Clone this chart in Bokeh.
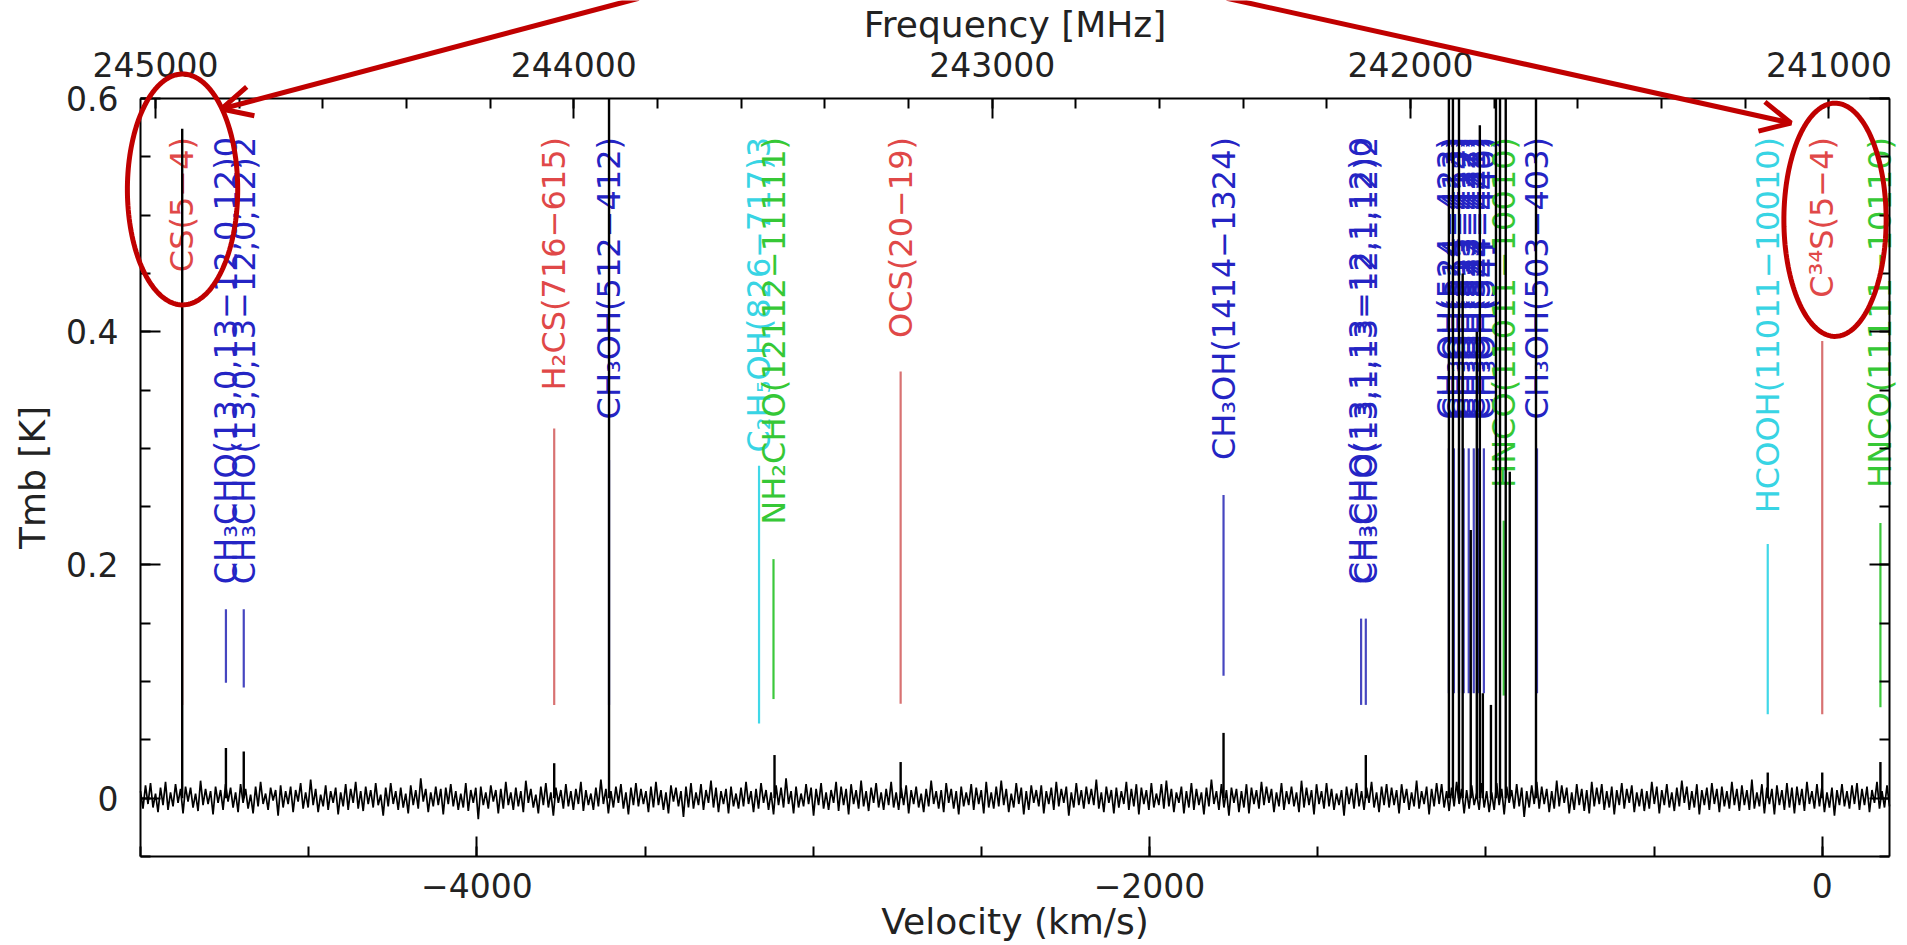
import numpy as np
from bokeh.plotting import figure
from bokeh.models import (Range1d, LinearAxis, FixedTicker, ColumnDataSource, Arrow,
                          OpenHead, PolyAnnotation, BasicTickFormatter, CustomJSTickFormatter)
from bokeh.core.properties import value
from bokeh.embed import file_html
from bokeh.resources import INLINE

# ---------------- data ----------------
# velocity range of the spectrum (km/s), Tmb range (K), rest frequency of C34S(5-4) for the top axis
v_min, v_max = -5000, 200
t_min, t_max = -0.05, 0.6
rest_freq_mhz = 241016.1
c_kms = 299792.458

# baseline noise of the spectrum (mK), one value per channel
noise_mK = [
    6,-9,11,-5,13,-8,4,-12,9,-6,14,-10,5,-7,12,-4,8,-13,10,-3,
    9,-8,4,-11,15,-6,8,-5,6,-14,10,-4,7,-10,12,-3,9,-8,5,-12,
    12,-4,8,-9,3,-13,10,-7,14,-5,4,-10,9,-2,7,-15,11,-8,6,-5,
    10,-12,7,-3,13,-9,5,-8,16,-6,8,-12,3,-7,11,-10,6,-4,9,-14,
    5,-7,12,-10,8,-4,14,-9,6,-11,10,-5,7,-8,13,-6,3,-15,9,-7,
    13,-5,6,-10,9,-8,4,-13,11,-6,7,-9,17,-3,8,-12,5,-7,10,-6,
    8,-14,9,-5,12,-7,6,-10,4,-8,13,-11,7,-4,9,-18,10,-6,5,-9,
    11,-3,7,-13,8,-9,14,-6,5,-10,9,-7,6,-12,15,-4,8,-8,3,-13,
    10,-6,13,-8,5,-15,9,-4,7,-9,12,-7,6,-10,8,-5,14,-11,7,-6,
    4,-10,9,-7,16,-5,8,-13,6,-8,10,-4,12,-9,5,-14,9,-6,13,-7,
    8,-5,6,-12,10,-8,14,-6,7,-10,5,-13,11,-3,9,-7,6,-16,10,-8,
    13,-9,5,-6,12,-10,7,-4,15,-8,9,-12,6,-5,8,-13,10,-7,4,-9,
    9,-7,14,-5,6,-12,8,-9,13,-4,7,-10,5,-14,11,-6,9,-8,17,-5,
    6,-13,10,-8,4,-7,12,-5,9,-15,8,-6,13,-9,5,-10,7,-4,14,-11,
    10,-6,8,-14,12,-5,7,-9,15,-7,6,-11,9,-4,13,-8,5,-10,8,-6,
    14,-8,5,-10,9,-6,11,-13,7,-5,10,-8,4,-12,8,-7,15,-5,6,-9,
    7,-12,13,-4,8,-9,6,-14,10,-7,5,-6,12,-10,9,-5,7,-13,14,-8,
    5,-9,10,-7,15,-6,8,-12,4,-8,13,-5,9,-14,6,-10,11,-4,7,-7,
    11,-13,6,-5,9,-10,14,-7,8,-4,10,-15,5,-8,13,-6,7,-9,10,-5,
    8,-6,16,-9,5,-12,10,-4,7,-13,9,-8,6,-5,14,-10,8,-7,12,-14,
    9,-5,7,-10,13,-8,4,-6,12,-9,15,-7,8,-12,5,-4,10,-13,6,-8,
    13,-10,8,-6,5,-14,9,-7,16,-5,6,-10,12,-8,7,-15,9,-4,8,-12,
    6,-8,12,-13,9,-5,7,-9,14,-6,10,-4,8,-12,5,-7,13,-10,6,-5,
    10,-7,5,-12,15,-8,9,-6,7,-14,12,-5,6,-9,13,-7,8,-10,4,-6,
    7,-15,10,-5,8,-9,13,-7,6,-10,9,-4,14,-8,5,-12,10,-6,12,-8,
    9,-6,7,-13,12,-4,8,-10,5,-7,15,-9,6,-5,10,-14,8,-7,13,-5,
    12,-8,6,-11,9,-7,14,-5,8,-13,7,-9,11,-6,4,-10,13,-8,6,-12,
    5,-10,13,-6,8,-14,10,-4,7,-9,12,-7,9,-16,6,-8,11,-5,14,-9,
    10,-5,8,-12,6,-9,15,-7,11,-4,9,-13,5,-10,12,-6,8,-11,7,-13,
    14,-7,9,-5,12,-10,6,-8,10,-14,7,-6,13,-9,8,-4,11,-12,5,-7,
    8,-11,6,-9,14,-5,10,-13,7,-6,12,-8,5,-11,9,-7,15,-4,10,-10,
    6,-8,12,-14,7,-6,9,-10,13,-5,8,-12,10,-7,6,-9,14,-6,8,-11,
    11,-6,7,-10,16,-9,5,-7,12,-13,9,-5,8,-14,11,-6,7,-10,13,-8,
    9,-13,10,-6,8,-11,14,-5,6,-9,12,-7,10,-12,5,-8,9,-15,7,-6,
    12,-7,6,-9,11,-5,13,-10,8,-6,10,-12,7,-4,14,-9,6,-8,11,-7,
]

# emission peaks of the spectrum: velocity (km/s) and Tmb (K); 0.6 = runs off the top of the plot
peak_v = [-4876, -4746, -4693, -3770, -3607, -3115, -2740, -1780, -1357,
          -1110, -1098, -1080, -1069, -1045, -1027, -1018, -1009, -985,
          -970, -958, -941, -929, -851, -162, 0, 173]
peak_T = [0.574, 0.043, 0.040, 0.030, 0.60, 0.037, 0.031, 0.056, 0.037,
          0.60, 0.60, 0.60, 0.45, 0.23, 0.40, 0.577, 0.09, 0.08,
          0.60, 0.60, 0.60, 0.28, 0.60, 0.022, 0.022, 0.031]

# identified transitions: label, colour family, velocity, marker bottom / top (K)
line_labels = [
    "CS(5−4)",
    "CH₃CHO(13,0,13−12,0,12)0",
    "CH₃CHO(13,0,13−12,0,12)2",
    "H₂CS(716−615)",
    "CH₃OH(512−412)",
    "C₂H₅OH(826−717)3",
    "NH₂CHO(12112−11111)",
    "OCS(20−19)",
    "CH₃OH(1414−1324)",
    "CH₃CHO(13,1,13−12,1,12)0",
    "CH₃CHO(13,1,13−12,1,12)2",
    "CH₃OH(524−423)",
    "CH₃OH(514−413)",
    "CH₃OH(515−414)",
    "CH₃OH(523−422)",
    "CH₃OH(533−432)",
    "CH₃OH(532−431)",
    "CH₃OH(544−443)",
    "CH₃OH(541−440)",
    "HNCO(11011−10010)",
    "CH₃OH(503−403)",
    "HCOOH(11011−10010)",
    "C³⁴S(5−4)",
    "HNCO(11111−10110)",
]
line_family = ["red", "blue", "blue", "red", "blue", "cyan", "green", "red", "blue",
               "blue", "blue", "blue", "blue", "blue", "blue", "blue", "blue", "blue",
               "blue", "green", "blue", "cyan", "red", "green"]
line_v = [-4876, -4746, -4693, -3770, -3607, -3161, -3118, -2740, -1780,
          -1371, -1357, -1110, -1095, -1080, -1066, -1051, -1036, -1021, -1006,
          -947, -848, -162, 0, 173]
marker_bottom = [0.080, 0.099, 0.095, 0.080, 0.080, 0.064, 0.085, 0.081, 0.105,
                 0.080, 0.080, 0.090, 0.090, 0.090, 0.090, 0.090, 0.090, 0.090, 0.090,
                 0.088, 0.090, 0.072, 0.072, 0.078]
marker_top = [0.420, 0.162, 0.162, 0.317, 0.290, 0.285, 0.205, 0.366, 0.260,
              0.154, 0.154, 0.300, 0.300, 0.300, 0.300, 0.300, 0.300, 0.300, 0.300,
              0.238, 0.300, 0.218, 0.392, 0.236]

# tick values
vel_ticks = [-4000, -2000, 0]
vel_tick_labels = ["−4000", "−2000", "0"]
vel_minor = list(range(-5000, 201, 500))
freq_ticks = [245000, 244000, 243000, 242000, 241000]
freq_minor = list(range(241000, 245001, 200))
tmb_ticks = [0, 0.2, 0.4, 0.6]
tmb_tick_labels = ["0", "0.2", "0.4", "0.6"]
tmb_minor = [-0.05, 0.0, 0.05, 0.1, 0.15, 0.2, 0.25, 0.3, 0.35, 0.4, 0.45, 0.5, 0.55, 0.6]

# ---------------- layout & styling ----------------
W, H = 1907, 945
box_left, box_right, box_top, box_bottom = 140, 1889, 98, 856   # pixel box of the axes
text_colour = {"red": "#e04848", "blue": "#2424c4", "cyan": "#38d4e4", "green": "#36c836"}
marker_colour = {"red": "#d87272", "blue": "#4646c0", "cyan": "#40d8e8", "green": "#3cc83c"}
label_top = 0.567
FONT = "DejaVu Sans"
ANN = "#c00000"

# the plotting frame covers the whole canvas; the axes are drawn at fixed locations
sx = (box_right - box_left) / (v_max - v_min)
sy = (box_bottom - box_top) / (t_max - t_min)
x_lo = v_min - box_left / sx
x_hi = v_max + (W - box_right) / sx
y_hi = t_max + box_top / sy
y_lo = t_min - (H - box_bottom) / sy

p = figure(width=W, height=H, output_backend="svg", toolbar_location=None,
           x_range=Range1d(x_lo, x_hi), y_range=Range1d(y_lo, y_hi),
           x_axis_type=None, y_axis_type=None, min_border=0)
p.outline_line_color = None
p.background_fill_color = "white"
p.border_fill_color = "white"


def freq(v):
    return rest_freq_mhz * (1 - v / c_kms)


p.extra_x_ranges = {"freq": Range1d(freq(x_lo), freq(x_hi))}


def style(ax, label_size="33px"):
    ax.axis_line_color = "black"
    ax.axis_line_width = 2
    ax.major_tick_in = 20
    ax.major_tick_out = 0
    ax.minor_tick_in = 10
    ax.minor_tick_out = 0
    ax.major_tick_line_width = 2
    ax.minor_tick_line_width = 2
    ax.major_tick_line_color = "black"
    ax.minor_tick_line_color = "black"
    ax.major_label_text_font = FONT
    ax.major_label_text_font_size = label_size
    ax.major_label_text_color = "#222222"
    ax.axis_label_text_font = FONT
    ax.axis_label_text_font_size = "36px"
    ax.axis_label_text_font_style = "normal"
    ax.axis_label_text_color = "#222222"


xb = LinearAxis(ticker=FixedTicker(ticks=vel_ticks, minor_ticks=vel_minor),
                axis_label="Velocity (km/s)", fixed_location=t_min, bounds=(v_min, v_max))
xb.major_label_overrides = dict(zip(vel_ticks, vel_tick_labels))
style(xb)
xb.major_label_standoff = 16
xb.axis_label_standoff = 0
p.add_layout(xb, "below")

f_lo, f_hi = sorted([freq(v_min), freq(v_max)])
xt = LinearAxis(x_range_name="freq",
                ticker=FixedTicker(ticks=freq_ticks, minor_ticks=freq_minor),
                formatter=BasicTickFormatter(use_scientific=False),
                axis_label="Frequency [MHz]", fixed_location=t_max, bounds=(f_lo, f_hi))
style(xt)
xt.major_label_standoff = 22
xt.axis_label_standoff = 4
p.add_layout(xt, "above")

yl = LinearAxis(ticker=FixedTicker(ticks=tmb_ticks, minor_ticks=tmb_minor), axis_label="Tmb [K]",
                fixed_location=v_min, bounds=(t_min, t_max))
yl.major_label_overrides = dict(zip(tmb_ticks, tmb_tick_labels))
style(yl)
yl.major_label_standoff = 22
yl.axis_label_standoff = 10
p.add_layout(yl, "left")

yr = LinearAxis(ticker=FixedTicker(ticks=tmb_ticks, minor_ticks=tmb_minor),
                formatter=CustomJSTickFormatter(code="return ''"),
                fixed_location=v_max, bounds=(t_min, t_max))
style(yr)
p.add_layout(yr, "right")

# transition markers and labels
src = ColumnDataSource(dict(
    x=line_v,
    y0=marker_bottom,
    y1=marker_top,
    ytxt=[label_top] * len(line_v),
    text=line_labels,
    tcol=[text_colour[f] for f in line_family],
    mcol=[marker_colour[f] for f in line_family],
))
p.segment(x0="x", y0="y0", x1="x", y1="y1", source=src, line_color="mcol", line_width=2.2)
p.text(x="x", y="ytxt", text="text", source=src, angle=np.pi / 2,
       text_align="right", text_baseline="middle", text_color="tcol",
       text_font=value(FONT), text_font_size="32px")

# spectrum
v_grid = np.linspace(v_min, v_max, len(noise_mK))
p.line(v_grid, np.array(noise_mK) / 1000.0, line_color="black", line_width=1.7)
p.segment(x0=peak_v, y0=[0] * len(peak_v), x1=peak_v, y1=peak_T,
          line_color="black", line_width=2.4)

# red annotation: ellipses around CS and C34S, arrows coming from above
ell_centres = [(-4875, 0.522), (38, 0.496)]
ell_half = [(164, 0.099), (152, 0.100)]
tt = np.linspace(0, 2 * np.pi, 160)
for (cx, cy), (rx, ry) in zip(ell_centres, ell_half):
    p.add_layout(PolyAnnotation(xs=list(cx + rx * np.cos(tt)), ys=list(cy + ry * np.sin(tt)),
                                fill_color=None, fill_alpha=0, line_color=ANN,
                                line_alpha=1.0, line_width=5))

arrows = [((-3519, 0.686), (-4759, 0.591)), ((-1770, 0.686), (-93, 0.579))]
for (xs0, ys0), (xe, ye) in arrows:
    p.add_layout(Arrow(end=OpenHead(size=30, line_color=ANN, line_width=5),
                       x_start=xs0, y_start=ys0, x_end=xe, y_end=ye,
                       line_color=ANN, line_width=5))

open("out.html", "w").write(file_html(p, INLINE))
